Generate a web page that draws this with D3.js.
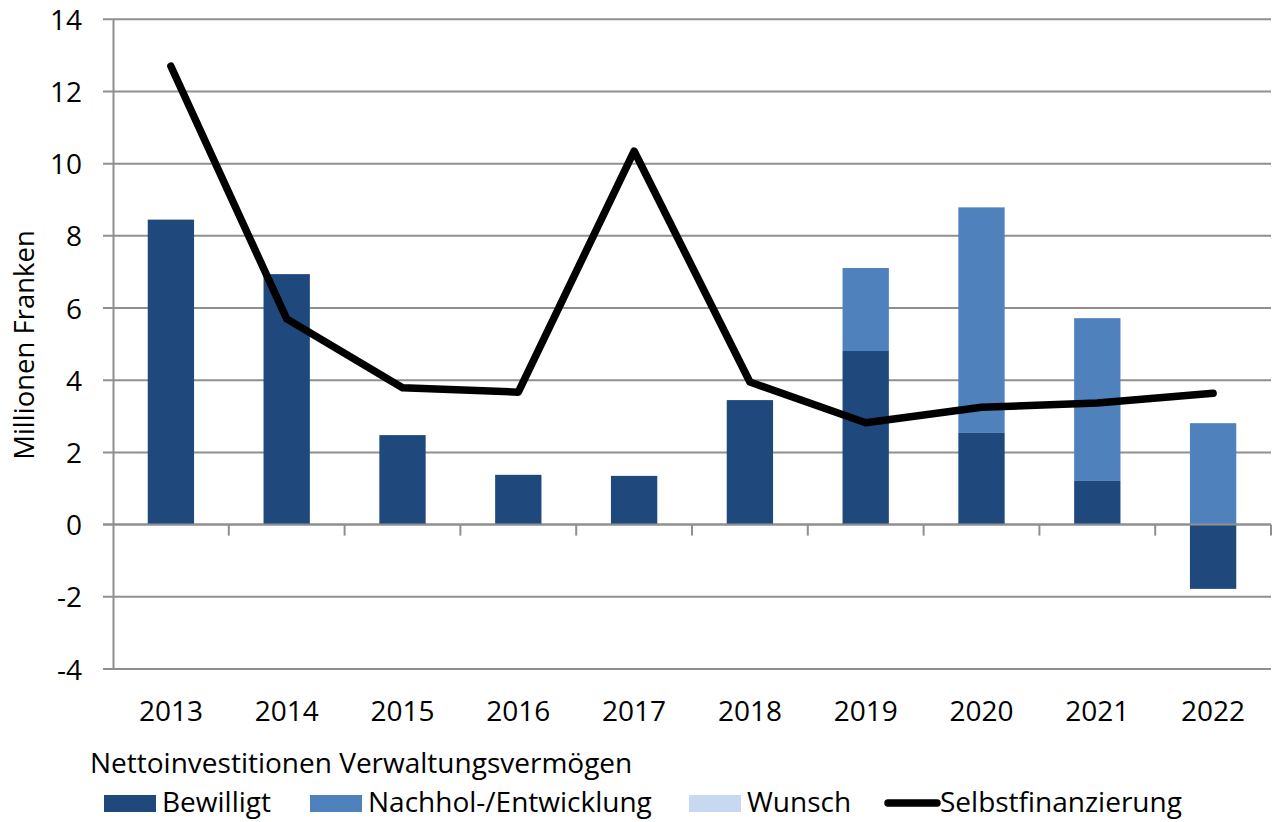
<!DOCTYPE html>
<html>
<head>
<meta charset="utf-8">
<script src="https://cdn.jsdelivr.net/npm/d3@7"></script>
<style>
  body { margin: 0; background: #fff; }
  svg text { font-family: "Open Sans", "Noto Sans", sans-serif; fill: #000; }
</style>
</head>
<body>
<div id="chart"></div>
<script>
// chart values
var years        = ['2013', '2014', '2015', '2016', '2017', '2018', '2019', '2020', '2021', '2022'];
var bewilligt    = [8.45, 6.94, 2.48, 1.38, 1.35, 3.45, 4.81, 2.54, 1.21, -1.78];
var nachhol      = [0, 0, 0, 0, 0, 0, 2.30, 6.25, 4.51, 2.81];
var wunsch       = [0, 0, 0, 0, 0, 0, 0, 0, 0, 0];
var selbstfin    = [12.70, 5.70, 3.79, 3.67, 10.35, 3.95, 2.82, 3.25, 3.37, 3.64];
var yTicks       = [-4, -2, 0, 2, 4, 6, 8, 10, 12, 14];
var seriesNames  = ['Bewilligt', 'Nachhol-/Entwicklung', 'Wunsch'];
var seriesColors = ['#1f497d', '#4f81bd', '#c6d9f1'];
var lineName     = 'Selbstfinanzierung';
var legendTitle  = 'Nettoinvestitionen Verwaltungsvermögen';
var yTitle       = 'Millionen Franken';

var width  = 1279;
var height = 822;
// plot box (note: "top" is taken by window.top)
var plotLeft = 113, plotRight = 1271, plotTop = 19.3, plotBottom = 669;

var svg = d3.select('#chart').append('svg')
            .attr('width', width)
            .attr('height', height);

var x = d3.scaleBand().domain(years).range([plotLeft, plotRight])
          .paddingInner(0.6).paddingOuter(0.3);
var y = d3.scaleLinear().domain([-4, 14]).range([plotBottom, plotTop]);

// grid lines (incl. the little tick on the left)
svg.append('g').selectAll('line').data(yTicks).enter()
   .append('line')
   .attr('x1', plotLeft - 10).attr('x2', plotRight)
   .attr('y1', function(d) { return y(d); })
   .attr('y2', function(d) { return y(d); })
   .attr('stroke', '#8f8f8f')
   .attr('stroke-width', 2);

// y axis - plain hyphen for negatives, like the original
var yAxis = svg.append('g').attr('class', 'y axis')
   .attr('transform', 'translate(' + plotLeft + ',0)')
   .call(d3.axisLeft(y).tickValues(yTicks).tickSize(0).tickPadding(31)
           .tickFormat(function(d) { return String(d); }));
yAxis.select('.domain').attr('stroke', '#8f8f8f').attr('stroke-width', 2);
yAxis.selectAll('text').style('font-size', '28px').attr('dy', '0.36em');

// stacked bars, positives go up, negatives go down
var stackData = years.map(function(yr, i) {
  return { year: yr, vals: [bewilligt[i], nachhol[i], wunsch[i]] };
});
var rects = [];
stackData.forEach(function(d) {
  var pos = 0, neg = 0;
  d.vals.forEach(function(v, s) {
    if (v >= 0) {
      rects.push({ year: d.year, s: s, y0: pos, y1: pos + v });
      pos += v;
    } else {
      rects.push({ year: d.year, s: s, y0: neg + v, y1: neg });
      neg += v;
    }
  });
});

svg.append('g').selectAll('rect').data(rects.filter(function(r) { return r.y1 - r.y0 > 0; }))
   .enter().append('rect')
   .attr('x', function(d) { return x(d.year); })
   .attr('width', x.bandwidth())
   .attr('y', function(d) { return y(d.y1); })
   .attr('height', function(d) { return y(d.y0) - y(d.y1); })
   .attr('fill', function(d) { return seriesColors[d.s]; });

// x axis on zero
var xAxis = svg.append('g').attr('class', 'x axis')
   .attr('transform', 'translate(0,' + y(0) + ')');
xAxis.append('line')
     .attr('x1', plotLeft - 10).attr('x2', plotRight)
     .attr('stroke', '#8f8f8f').attr('stroke-width', 2);
var step = x.step();
xAxis.selectAll('line.tick').data(d3.range(1, years.length + 1)).enter()
     .append('line').attr('class', 'tick')
     .attr('x1', function(k) { return plotLeft + k * step; })
     .attr('x2', function(k) { return plotLeft + k * step; })
     .attr('y1', 0).attr('y2', 11)
     .attr('stroke', '#8f8f8f').attr('stroke-width', 2);

// category labels at the bottom
svg.append('g').selectAll('text').data(years).enter()
   .append('text')
   .attr('x', function(d) { return x(d) + x.bandwidth() / 2; })
   .attr('y', 721)
   .attr('text-anchor', 'middle')
   .style('font-size', '28px')
   .text(function(d) { return d; });

// line
var line = d3.line()
   .x(function(d, i) { return x(years[i]) + x.bandwidth() / 2; })
   .y(function(d) { return y(d); });
svg.append('path').datum(selbstfin)
   .attr('d', line)
   .attr('fill', 'none')
   .attr('stroke', '#000')
   .attr('stroke-width', 7.5)
   .attr('stroke-linecap', 'round')
   .attr('stroke-linejoin', 'round');

// y title
svg.append('text')
   .attr('transform', 'translate(34,345) rotate(-90)')
   .attr('text-anchor', 'middle')
   .style('font-size', '27.5px')
   .text(yTitle);

// legend
svg.append('text').attr('x', 90).attr('y', 773)
   .style('font-size', '28px').text(legendTitle);

var legendX = [104, 310, 689];
var legend = svg.append('g');
seriesNames.forEach(function(name, i) {
  legend.append('rect')
        .attr('x', legendX[i]).attr('y', 795)
        .attr('width', 52).attr('height', 17)
        .attr('fill', seriesColors[i]);
  legend.append('text')
        .attr('x', legendX[i] + 58).attr('y', 812)
        .style('font-size', '28px').text(name);
});
legend.append('line')
      .attr('x1', 888).attr('x2', 937).attr('y1', 803).attr('y2', 803)
      .attr('stroke', '#000').attr('stroke-width', 7.5).attr('stroke-linecap', 'round');
legend.append('text').attr('x', 940).attr('y', 812)
      .style('font-size', '28px').text(lineName);
</script>
</body>
</html>
